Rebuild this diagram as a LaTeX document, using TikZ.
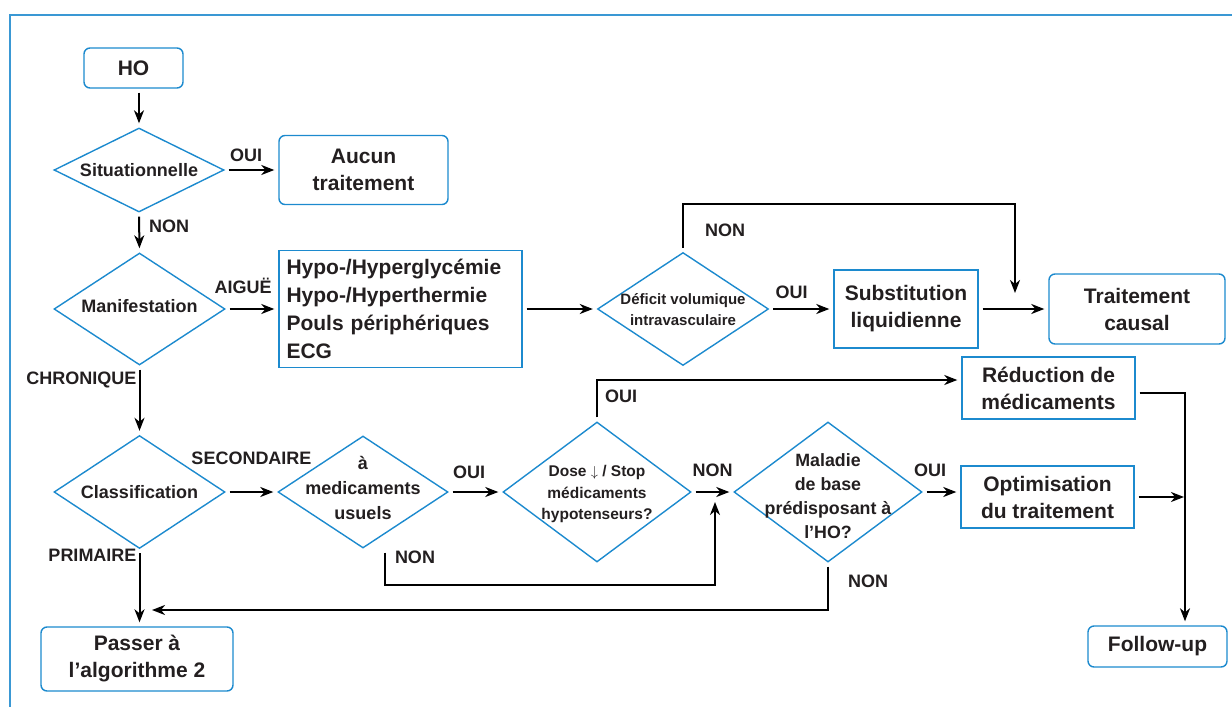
\documentclass[tikz,border=0pt]{standalone}
\usepackage{fontspec}
\setmainfont{Liberation Sans}
\usetikzlibrary{shapes.geometric,arrows.meta}
\definecolor{hoblue}{RGB}{28,138,206}
\definecolor{hoframe}{RGB}{58,152,212}
\definecolor{hotext}{RGB}{35,31,32}
\def\bx{\fontsize{21}{27}\selectfont}
\def\lb{\fontsize{18}{18}\selectfont}

\begin{document}
\begin{tikzpicture}[x=1pt,y=-1pt,
  every text node part/.style={align=center},
  every node/.style={text=hotext,font=\bfseries},
  box/.style={draw=hoblue,line width=1.4pt,inner sep=0pt,font=\bfseries\bx},
  rbox/.style={box,rounded corners=6pt},
  dia/.style={draw=hoblue,line width=1.4pt,shape=diamond,inner sep=0pt},
  dtxt/.style={inner sep=0pt,font=\bfseries\fontsize{18}{25}\selectfont},
  lab/.style={inner sep=1pt,font=\bfseries\lb},
  arr/.style={draw=black,line width=2pt,-{Stealth[length=13pt,width=10pt,inset=4pt]},shorten >=4pt,shorten <=4pt}]
  \useasboundingbox (0,0) rectangle (1232,707);
  \draw[hoframe,line width=2pt] (1232,15) -- (10,15) -- (10,707);

  \node[rbox,minimum width=99pt,minimum height=40pt] (0) at (133.5,68) {HO};
  \node[dia,minimum width=170pt,minimum height=84pt] (1) at (139,170) {};
  \node[dtxt] (1t) at (1) {Situationnelle};
  \node[rbox,minimum width=169pt,minimum height=69pt] (2) at (363.5,170) {Aucun\\traitement};
  \node[dia,minimum width=171pt,minimum height=112pt] (3) at (139.5,309) {};
  \node[dtxt] (3t) at (139.5,306) {Manifestation};
  \node[box,minimum width=243pt,minimum height=117pt,text width=228pt,every text node part/.style={align=left},
    font=\bfseries\fontsize{21}{28}\selectfont] (4) at (400.5,309) {Hypo-/Hyperglycémie\\Hypo-/Hyperthermie\\Pouls périphériques\\ECG};
  \node[dia,minimum width=171pt,minimum height=113pt] (5) at (683,309) {};
  \node[dtxt,font=\bfseries\fontsize{15}{21}\selectfont] (5t) at (683,310) {Déficit volumique\\intravasculaire};
  \node[box,minimum width=144pt,minimum height=78pt] (6) at (906,309) {Substitution\\liquidienne};
  \node[rbox,minimum width=176pt,minimum height=70pt] (7) at (1137,309) {Traitement\\causal};
  \node[box,minimum width=173pt,minimum height=62pt] (8) at (1048.5,388) {Réduction de\\médicaments};
  \node[dia,minimum width=171pt,minimum height=113pt] (9) at (139.5,492) {};
  \node[dtxt] (9t) at (9) {Classification};
  \node[dia,minimum width=170pt,minimum height=112pt] (10) at (363,492) {};
  \node[dtxt] (10t) at (363,488) {à\\medicaments\\usuels};
  \node[dia,minimum width=188pt,minimum height=140pt] (11) at (597,492) {};
  \node[dtxt,font=\bfseries\fontsize{15.5}{21.5}\selectfont] (11t) at (597,494) {Dose $\downarrow$ / Stop\\médicaments\\hypotenseurs?};
  \node[dia,minimum width=188pt,minimum height=140pt] (12) at (828,492) {};
  \node[dtxt,font=\bfseries\fontsize{17.8}{24}\selectfont] (12t) at (828,496) {Maladie\\de base\\prédisposant à\\l’HO?};
  \node[box,minimum width=173pt,minimum height=62pt] (13) at (1047.5,497) {Optimisation\\du traitement};
  \node[rbox,minimum width=192pt,minimum height=64pt] (14) at (137,659) {Passer à\\l’algorithme 2};
  \node[rbox,minimum width=139pt,minimum height=41pt] (15) at (1157.5,646.5) {Follow-up};

  \coordinate (n1) at (1015,297);
  \coordinate (m1) at (715,498);
  \coordinate (p1) at (148,610);
  \coordinate (f) at ([xshift=27.5pt]15.north);

  \draw[arr] (0.south -| 1.north) -- (1.north);
  \draw[arr] (1.east) -- (2.west) node[lab,above=6pt,pos=0.4] {OUI};
  \draw[arr] (1.south) -- (3.north) node[lab,right=8pt,pos=0.35] {NON};
  \draw[arr] (3.east) -- (4.west) node[lab,above=13pt,pos=0.33] {AIGUË};
  \draw[arr] (3.south) -- (9.north) node[lab,left=1pt,pos=0.2] {CHRONIQUE};
  \draw[arr] (4.east) -- (5.west);
  \draw[arr] (5.east) -- (6.west) node[lab,above=8pt,pos=0.35] {OUI};
  \draw[arr] (5.north) |- ([yshift=93pt]n1) node[lab,right=20pt,pos=0.22] {NON} -- (n1);
  \draw[arr] (6.east) -- (7.west);
  \draw[arr] (9.east) -- (10.west) node[lab,above=25pt,pos=0.5] {SECONDAIRE};
  \draw[arr] (10.east) -- (11.west) node[lab,above=11pt,pos=0.38] {OUI};
  \draw[arr] (11.east) -- (12.west) node[lab,above=13pt,pos=0.5] {NON};
  \draw[arr] (12.east) -- (12.east -| 13.west) node[lab,above=13pt,pos=0.2] {OUI};
  \draw[arr] (11.north) |- ([yshift=8pt]8.west) node[lab,right=6pt,pos=0.3] {OUI};
  \draw[arr] ([xshift=22pt]10.south) -- ++(0,36) node[lab,right=8pt,pos=0.25] {NON} -| (m1);
  \draw[arr] (12.south) |- (p1) node[lab,right=18pt,pos=0.2] {NON};
  \draw[arr] (9.south) -- (9.south |- 14.north) node[lab,left=1pt,pos=0.08] {PRIMAIRE};
  \draw[arr] ([yshift=-5pt]8.east) -| (f);
  \draw[arr,shorten >=1pt] (13.east) -- (13.east -| f);
\end{tikzpicture}
\end{document}
